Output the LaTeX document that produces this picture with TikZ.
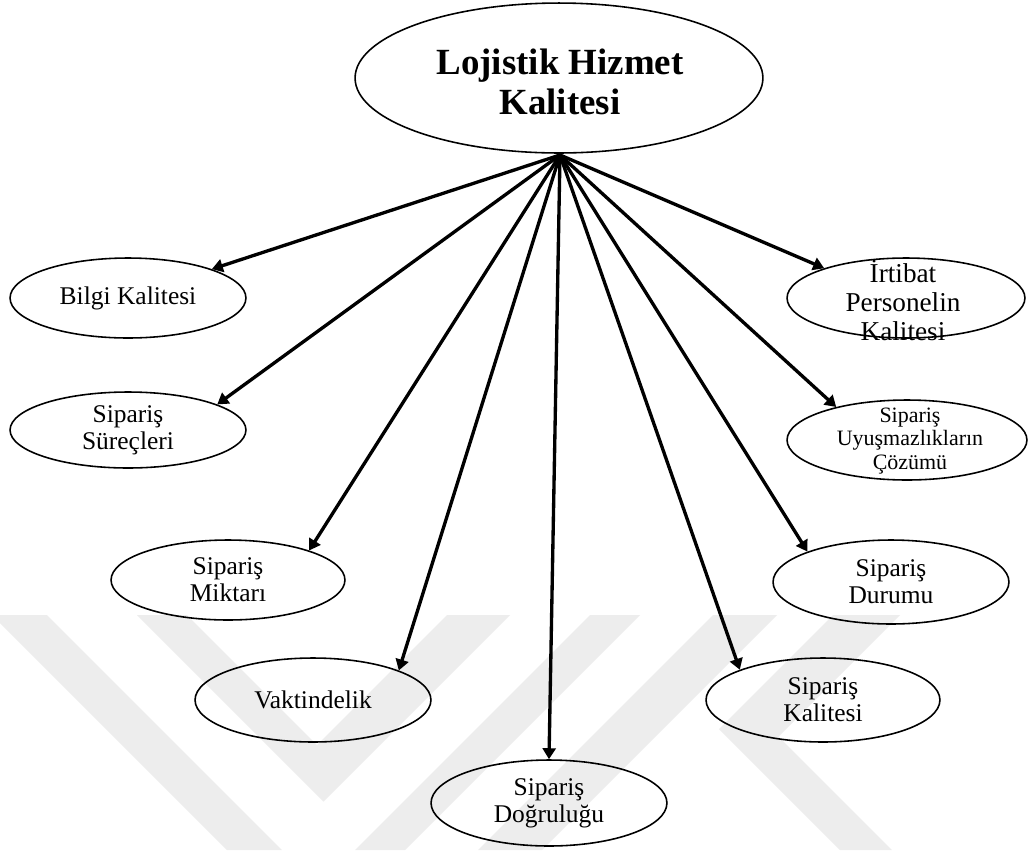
\documentclass[tikz,border=0pt]{standalone}
\usepackage{fontspec}
\setmainfont{Liberation Serif}
\usetikzlibrary{shapes.geometric,arrows.meta}
\begin{document}
\begin{tikzpicture}[x=0.02cm,y=-0.02cm,
  oval/.style={draw, ellipse, line width=0.9pt, inner sep=0pt},
  radii/.style 2 args={minimum width=#1*0.04cm, minimum height=#2*0.04cm},
  lbl/.style={align=center, inner sep=0pt, font=\fontsize{14.5}{15.5}\selectfont},
  link/.style={line width=1.9pt, -{Triangle[length=0.22cm,width=0.26cm]}},
  wmark/.style={fill=black!7, draw=none}]

\useasboundingbox (0,0) rectangle (1029,850);
\fill[white] (0,0) rectangle (1029,850);

% faint background emblem
\fill[wmark] (-8,615) -- (47,615) -- (282,850) -- (227,850) -- cycle;
\fill[wmark] (137,615) -- (323.5,801.5) -- (510,615) -- (447,615) -- (317,745) -- (187,615) -- cycle;
\fill[wmark] (590,615) -- (640,615) -- (405,850) -- (355,850) -- cycle;
\fill[wmark] (713,615) -- (777,615) -- (542,850) -- (478,850) -- cycle;
\fill[wmark] (833,615) -- (719,729) -- (840,850) -- (892,850) -- (778.5,736.5) -- (900,615) -- cycle;

% central concept
\node[oval, radii={204}{75}] (hq) at (559,78) {};
\node[lbl, font=\bfseries\fontsize{21}{22.7}\selectfont] (hq-t) at (560,82) {Lojistik Hizmet\\Kalitesi};
\coordinate (hub) at (560,155);

% dimensions, left side
\node[oval, radii={118}{40}] (bilgi) at (128,298) {};
\node[lbl] (bilgi-t) at (bilgi) {Bilgi Kalitesi};
\node[oval, radii={118}{38}] (surec) at (128,430) {};
\node[lbl] (surec-t) at (surec) {Sipariş\\Süreçleri};
\node[oval, radii={117}{40}] (miktar) at (228,580) {};
\node[lbl] (miktar-t) at (miktar) {Sipariş\\Miktarı};
\node[oval, radii={118}{42}] (vakt) at (313,700) {};
\node[lbl] (vakt-t) at (vakt) {Vaktindelik};

% bottom
\node[oval, radii={118}{43}] (dogru) at (549,803) {};
\node[lbl] (dogru-t) at (dogru) {Sipariş\\Doğruluğu};

% dimensions, right side
\node[oval, radii={117}{42}] (kalite) at (823,700) {};
\node[lbl] (kalite-t) at (kalite) {Sipariş\\Kalitesi};
\node[oval, radii={118}{42}] (durum) at (891,582) {};
\node[lbl] (durum-t) at (durum) {Sipariş\\Durumu};
\node[oval, radii={120}{40}] (uyus) at (907,440) {};
\node[lbl, font=\fontsize{12.5}{13.6}\selectfont] (uyus-t) at (910,441) {Sipariş\\Uyuşmazlıkların\\Çözümü};
\node[oval, radii={119}{40}] (irtibat) at (906,298) {};
\node[lbl, font=\fontsize{15.5}{16.5}\selectfont] (irtibat-t) at (903,300) {İrtibat\\Personelin\\Kalitesi};

% connectors
\draw[link] (hub) -- (bilgi.19);
\draw[link] (hub) -- (surec.16);
\draw[link] (hub) -- (miktar.20);
\draw[link] (hub) -- (vakt.19);
\draw[link] (hub) -- (dogru.90);
\draw[link] (hub) -- (kalite.160);
\draw[link] (hub) -- (durum.160);
\draw[link] (hub) -- (uyus.155);
\draw[link] (hub) -- (irtibat.160);
\end{tikzpicture}
\end{document}
